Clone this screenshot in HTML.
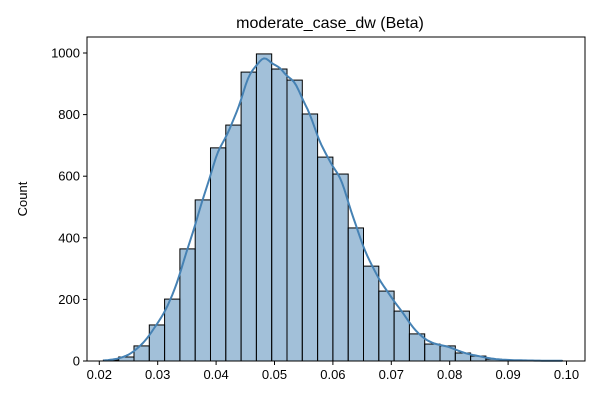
<!DOCTYPE html>
<html><head><meta charset="utf-8"><style>
body{margin:0;background:#fff;font-family:"Liberation Sans","DejaVu Sans",sans-serif}
svg text{font-family:"Liberation Sans","DejaVu Sans",sans-serif}
</style></head><body>
<svg id="chart" width="600" height="400" xmlns="http://www.w3.org/2000/svg">
<rect width="600" height="400" fill="#fff"/>
<text x="330" y="28" text-anchor="middle" font-size="16">moderate_case_dw (Beta)</text>
<text transform="translate(27,199) rotate(-90)" text-anchor="middle" font-size="13">Count</text>
<g id="plot"></g>
</svg>
<script>
const binStart = 0.0207;
const binWidth = 0.00262;
const counts = [3,13,49,117,201,364,523,692,766,938,997,948,912,802,662,607,432,308,227,162,88,55,49,26,16,6,3,2,1,1];
const xTicks = [0.02,0.03,0.04,0.05,0.06,0.07,0.08,0.09,0.10];
const xTickLabels = ["0.02","0.03","0.04","0.05","0.06","0.07","0.08","0.09","0.10"];
const yTicks = [0,200,400,600,800,1000];

const L=87,R=585,T=37,B=361;
const xs=v=>99.3+(v-0.02)*5840;
const ys=v=>B-v*0.308;
const NS="http://www.w3.org/2000/svg";
const g=document.getElementById('plot');
function mk(t,a){const e=document.createElementNS(NS,t);for(const k in a)e.setAttribute(k,a[k]);g.appendChild(e);return e;}

counts.forEach((c,i)=>{
  const x0=xs(binStart+i*binWidth),x1=xs(binStart+(i+1)*binWidth);
  const r=mk('rect',{x:x0,y:ys(c),width:x1-x0,height:B-ys(c),fill:'rgba(70,130,180,0.5)',stroke:'#000','stroke-width':1});
  
  
});

const centers=counts.map((c,i)=>binStart+(i+0.5)*binWidth);
const total=counts.reduce((a,b)=>a+b,0);
const mean=centers.reduce((s,c,i)=>s+c*counts[i],0)/total;
const sd=Math.sqrt(centers.reduce((s,c,i)=>s+(c-mean)**2*counts[i],0)/total);
const bw=1.06*sd*Math.pow(total,-0.2)*0.85;
let pts=[];
const xmin=binStart,xmax=binStart+counts.length*binWidth;
for(let k=0;k<=200;k++){
  const x=xmin+(xmax-xmin)*k/200;
  let d=0;
  counts.forEach((c,i)=>{d+=c*Math.exp(-0.5*((x-centers[i])/bw)**2)});
  d=d/(bw*Math.sqrt(2*Math.PI))*binWidth;
  pts.push(xs(x).toFixed(1)+','+ys(d).toFixed(1));
}
const kde=mk('polyline',{points:pts.join(' '),fill:'none',stroke:'#4682b4','stroke-width':2});



const frame=mk('rect',{x:L,y:T,width:R-L,height:B-T,fill:'none',stroke:'#000','stroke-width':1});



xTicks.forEach((v,i)=>{
  const x=xs(v);
  const t=mk('line',{x1:x,x2:x,y1:B,y2:B+4,stroke:'#000'});
  
  
  const l=mk('text',{x:x,y:B+18,'text-anchor':'middle','font-size':13});
  l.textContent=xTickLabels[i];
  
  
});
yTicks.forEach(v=>{
  const y=ys(v);
  const t=mk('line',{x1:L-4,x2:L,y1:y,y2:y,stroke:'#000'});
  
  
  const l=mk('text',{x:L-7,y:y+4.5,'text-anchor':'end','font-size':13});
  l.textContent=String(v);
  
  
});
</script>
</body></html>
